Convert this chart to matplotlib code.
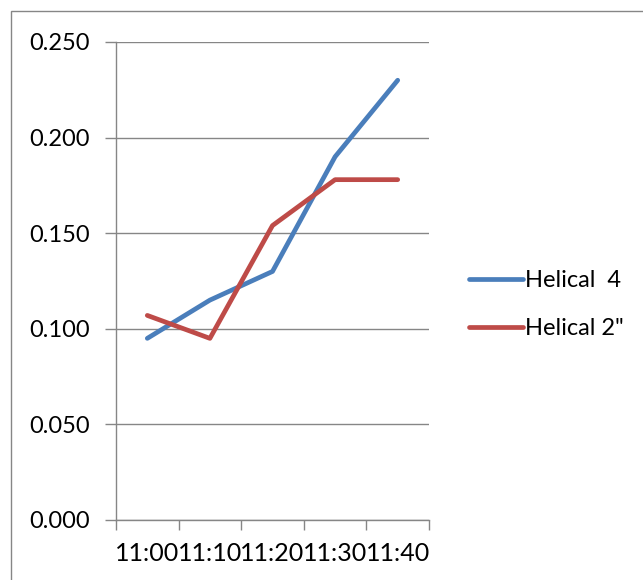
import matplotlib
matplotlib.use('Agg')
import matplotlib.pyplot as plt
from matplotlib.patches import Rectangle

times = ['11:00', '11:10', '11:20', '11:30', '11:40']
helical_4 = [0.095, 0.115, 0.130, 0.190, 0.230]
helical_2 = [0.107, 0.095, 0.154, 0.178, 0.178]
y_ticks = [0.0, 0.05, 0.10, 0.15, 0.20, 0.25]

plt.rcParams['font.family'] = ['Lato', 'DejaVu Sans']
grey = '#868686'

fig = plt.figure(figsize=(6.43, 5.8), dpi=100)
ax = fig.add_axes([116 / 643, 60 / 580, 313 / 643, 478 / 580])

x = list(range(len(times)))
ax.plot(x, helical_4, color='#4A7EBB', linewidth=3.4,
        solid_capstyle='round', solid_joinstyle='round', label='Helical  4')
ax.plot(x, helical_2, color='#BE4B48', linewidth=3.4,
        solid_capstyle='round', solid_joinstyle='round', label='Helical 2"')

ax.set_xlim(-0.5, len(times) - 0.5)
ax.set_ylim(0, 0.25)
ax.set_yticks(y_ticks)
ax.set_yticklabels([f'{v:.3f}' for v in y_ticks])
ax.grid(axis='y', color=grey, linewidth=1)
ax.set_axisbelow(True)

# boundary ticks between categories, labels in the middle
ax.set_xticks([i - 0.5 for i in range(len(times) + 1)])
ax.set_xticklabels([])
ax.set_xticks(x, minor=True)
ax.set_xticklabels(times, minor=True)
ax.tick_params(axis='x', which='major', length=7, color=grey, width=1)
ax.tick_params(axis='x', which='minor', length=0, labelsize=18, pad=16)
ax.tick_params(axis='y', length=8, color=grey, width=1, labelsize=17, pad=11)

for side in ['top', 'right']:
    ax.spines[side].set_visible(False)
for side in ['left', 'bottom']:
    ax.spines[side].set_color(grey)
    ax.spines[side].set_linewidth(1)

ax.legend(loc='center left', bbox_to_anchor=(1.098, 0.45), frameon=False,
          fontsize=17, handlelength=2.3, handletextpad=0.08,
          labelspacing=1.15, borderaxespad=0)

fig.add_artist(Rectangle((11 / 643, -0.1), 1.0, 1.1 - 11 / 580,
                         transform=fig.transFigure, fill=False,
                         edgecolor=grey, linewidth=1))

fig.savefig('out.png', dpi=100)
